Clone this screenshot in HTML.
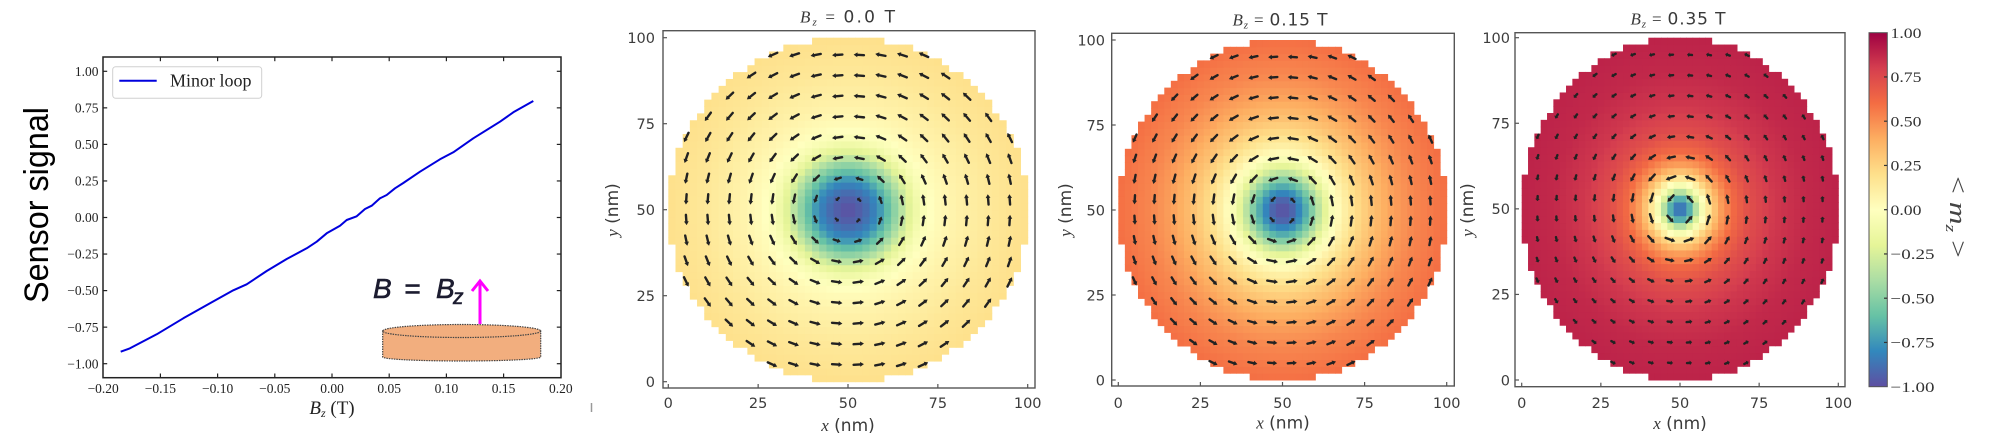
<!DOCTYPE html>
<html><head><meta charset="utf-8">
<style>
html,body{margin:0;padding:0;background:#fff;}
svg{display:block;}
</style></head><body>
<svg id="s" width="1993" height="439" viewBox="0 0 1993 439" xmlns="http://www.w3.org/2000/svg">
<defs>
<linearGradient id="cb" x1="0" y1="1" x2="0" y2="0">
<stop offset="0" stop-color="#5e4fa2"/><stop offset="0.1" stop-color="#3288bd"/><stop offset="0.2" stop-color="#66c2a5"/><stop offset="0.3" stop-color="#abdda4"/><stop offset="0.4" stop-color="#e6f598"/><stop offset="0.5" stop-color="#ffffbf"/><stop offset="0.6" stop-color="#fee08b"/><stop offset="0.7" stop-color="#fdae61"/><stop offset="0.8" stop-color="#f46d43"/><stop offset="0.9" stop-color="#d53e4f"/><stop offset="1" stop-color="#9e0142"/>
</linearGradient>
</defs>
<rect width="1993" height="439" fill="#fff"/>

<!-- Sensor signal label -->
<text transform="translate(48,205) rotate(-90)" text-anchor="middle" font-family="Liberation Sans, sans-serif" font-size="34" fill="#000" textLength="196" lengthAdjust="spacingAndGlyphs">Sensor signal</text>

<!-- Left plot -->
<g font-family="Liberation Serif, serif" fill="#222">
<rect x="103" y="57" width="458" height="320.7" fill="none" stroke="#222" stroke-width="1.5"/>
<g stroke="#222" stroke-width="1.2">
<line x1="160.4" y1="377.7" x2="160.4" y2="373.5"/><line x1="217.6" y1="377.7" x2="217.6" y2="373.5"/><line x1="274.8" y1="377.7" x2="274.8" y2="373.5"/><line x1="332" y1="377.7" x2="332" y2="373.5"/><line x1="389.2" y1="377.7" x2="389.2" y2="373.5"/><line x1="446.4" y1="377.7" x2="446.4" y2="373.5"/><line x1="503.6" y1="377.7" x2="503.6" y2="373.5"/>
<line x1="160.4" y1="57" x2="160.4" y2="61.2"/><line x1="217.6" y1="57" x2="217.6" y2="61.2"/><line x1="274.8" y1="57" x2="274.8" y2="61.2"/><line x1="332" y1="57" x2="332" y2="61.2"/><line x1="389.2" y1="57" x2="389.2" y2="61.2"/><line x1="446.4" y1="57" x2="446.4" y2="61.2"/><line x1="503.6" y1="57" x2="503.6" y2="61.2"/>
<line x1="103" y1="71.3" x2="107.2" y2="71.3"/><line x1="103" y1="107.85" x2="107.2" y2="107.85"/><line x1="103" y1="144.4" x2="107.2" y2="144.4"/><line x1="103" y1="180.95" x2="107.2" y2="180.95"/><line x1="103" y1="217.5" x2="107.2" y2="217.5"/><line x1="103" y1="254.05" x2="107.2" y2="254.05"/><line x1="103" y1="290.6" x2="107.2" y2="290.6"/><line x1="103" y1="327.15" x2="107.2" y2="327.15"/><line x1="103" y1="363.7" x2="107.2" y2="363.7"/>
<line x1="561" y1="71.3" x2="556.8" y2="71.3"/><line x1="561" y1="107.85" x2="556.8" y2="107.85"/><line x1="561" y1="144.4" x2="556.8" y2="144.4"/><line x1="561" y1="180.95" x2="556.8" y2="180.95"/><line x1="561" y1="217.5" x2="556.8" y2="217.5"/><line x1="561" y1="254.05" x2="556.8" y2="254.05"/><line x1="561" y1="290.6" x2="556.8" y2="290.6"/><line x1="561" y1="327.15" x2="556.8" y2="327.15"/><line x1="561" y1="363.7" x2="556.8" y2="363.7"/>
</g>
<g font-size="13.5" text-anchor="middle">
<text x="103.2" y="393">−0.20</text><text x="160.4" y="393">−0.15</text><text x="217.6" y="393">−0.10</text><text x="274.8" y="393">−0.05</text><text x="332" y="393">0.00</text><text x="389.2" y="393">0.05</text><text x="446.4" y="393">0.10</text><text x="503.6" y="393">0.15</text><text x="560.8" y="393">0.20</text>
</g>
<g font-size="13.5" text-anchor="end">
<text x="98.5" y="76">1.00</text><text x="98.5" y="112.5">0.75</text><text x="98.5" y="149">0.50</text><text x="98.5" y="185.6">0.25</text><text x="98.5" y="222.1">0.00</text><text x="98.5" y="258.7">−0.25</text><text x="98.5" y="295.2">−0.50</text><text x="98.5" y="331.8">−0.75</text><text x="98.5" y="368.3">−1.00</text>
</g>
<text x="332" y="414" text-anchor="middle" font-size="19"><tspan font-style="italic">B</tspan><tspan font-style="italic" font-size="12" dy="3">z</tspan><tspan dy="-3"> (T)</tspan></text>
<rect x="112.7" y="66.7" width="149" height="31.6" rx="3" fill="#fff" stroke="#d0d0d0" stroke-width="1"/>
<line x1="119.3" y1="80.7" x2="156.7" y2="80.7" stroke="#0000dd" stroke-width="2"/>
<text x="170" y="86.5" font-size="18">Minor loop</text>
</g>
<polyline fill="none" stroke="#0000dd" stroke-width="2" stroke-linejoin="round" points="120.7,351.7 130,348.3 156.7,334.3 183.3,318.3 210,303.3 233.3,290.3 246.7,284.3 266.7,271 286.7,259 306.7,248.3 316.7,241.7 326.7,233.3 340,225.7 346.7,220 356.7,216.3 365,209 371.7,205.7 380,198.3 386.7,195 395,188.3 403.3,183 420,171.7 440,159.3 453.3,152.3 473.3,138.3 500,121.7 513.3,112.3 533.3,101"/>

<!-- inset -->
<g font-family="Liberation Sans, sans-serif" font-style="italic" fill="#1c1c30" stroke="#1c1c30" stroke-width="0.6">
<text x="373" y="298" font-size="28">B</text>
<text x="404" y="298" font-size="28">=</text>
<text x="436" y="298" font-size="28">B</text>
<text x="453" y="304" font-size="21">z</text>
</g>
<line x1="480" y1="324" x2="480" y2="282" stroke="#ff00ff" stroke-width="3"/>
<polyline points="472,291 480,281 488,291" fill="none" stroke="#ff00ff" stroke-width="3"/>
<path d="M382.7,331 L382.7,357 A79,4 0 0 0 540.7,357 L540.7,331 Z" fill="#f2ae7e" stroke="#444" stroke-width="1.2" stroke-dasharray="1.5,1"/>
<ellipse cx="461.7" cy="331" rx="79" ry="6.5" fill="#f2ae7e" stroke="#444" stroke-width="1.2" stroke-dasharray="1.5,1"/>

<!-- small artifact -->
<line x1="591.5" y1="403" x2="591.5" y2="412" stroke="#999" stroke-width="1.5"/>

<g id="dyn"></g>

<!-- colorbar -->
<rect x="1869" y="32.7" width="18.3" height="354" fill="url(#cb)" stroke="#555" stroke-width="1"/>
<g stroke="#333" stroke-width="1.2">
<line x1="1887.3" y1="76.95" x2="1884" y2="76.95"/><line x1="1887.3" y1="121.2" x2="1884" y2="121.2"/><line x1="1887.3" y1="165.45" x2="1884" y2="165.45"/><line x1="1887.3" y1="209.7" x2="1884" y2="209.7"/><line x1="1887.3" y1="253.95" x2="1884" y2="253.95"/><line x1="1887.3" y1="298.2" x2="1884" y2="298.2"/><line x1="1887.3" y1="342.45" x2="1884" y2="342.45"/>
</g>
<g font-family="Liberation Serif, serif" font-size="15" fill="#333">
<text x="1890.5" y="38" textLength="31" lengthAdjust="spacingAndGlyphs">1.00</text>
<text x="1890.5" y="82" textLength="31" lengthAdjust="spacingAndGlyphs">0.75</text>
<text x="1890.5" y="126.3" textLength="31" lengthAdjust="spacingAndGlyphs">0.50</text>
<text x="1890.5" y="170.5" textLength="31" lengthAdjust="spacingAndGlyphs">0.25</text>
<text x="1890.5" y="214.8" textLength="31" lengthAdjust="spacingAndGlyphs">0.00</text>
<text x="1890.5" y="259" textLength="44" lengthAdjust="spacingAndGlyphs">−0.25</text>
<text x="1890.5" y="303.3" textLength="44" lengthAdjust="spacingAndGlyphs">−0.50</text>
<text x="1890.5" y="347.5" textLength="44" lengthAdjust="spacingAndGlyphs">−0.75</text>
<text x="1890.5" y="391.8" textLength="44" lengthAdjust="spacingAndGlyphs">−1.00</text>
</g>
<text transform="translate(1950,217) rotate(90)" text-anchor="middle" font-family="Liberation Serif, serif" font-size="24" fill="#444" textLength="82" lengthAdjust="spacingAndGlyphs">&lt; <tspan font-style="italic">m</tspan><tspan font-style="italic" font-size="15" dy="4">z</tspan><tspan dy="-4"> &gt;</tspan></text>
</svg>
<script>
(function(){
var SPEC=[[158,1,66],[213,62,79],[244,109,67],[253,174,97],[254,224,139],[255,255,191],[230,245,152],[171,221,164],[102,194,165],[50,136,189],[94,79,162]];
function cmap(mz){
  var t=1-(mz+1)/2; t=Math.max(0,Math.min(1,t))*10;
  var i=Math.min(9,Math.floor(t)), f=t-i, a=SPEC[i], b=SPEC[i+1];
  return 'rgb('+Math.round(a[0]+(b[0]-a[0])*f)+','+Math.round(a[1]+(b[1]-a[1])*f)+','+Math.round(a[2]+(b[2]-a[2])*f)+')';
}
function prof(p,r){
  if(r<=p[0][0]) return p[0][1];
  for(var k=1;k<p.length;k++){ if(r<=p[k][0]){var f=(r-p[k-1][0])/(p[k][0]-p[k-1][0]); return p[k-1][1]+(p[k][1]-p[k-1][1])*f;} }
  return p[p.length-1][1];
}
var P=[
 {x0:668.3,sx:3.594,y0:381.7,sy:3.44,box:[663,30.7,1035,388],title:'0.0',tcx:847.5,tby:22.5,ylx:618,xlb:431,ytr:655,xcx:848,Ls:10.5,
  p:[[0,-1],[4,-0.93],[8,-0.8],[11,-0.62],[14,-0.42],[17,-0.22],[20,-0.07],[24,0.02],[30,0.08],[40,0.15],[51,0.2]]},
 {x0:1118.3,sx:3.284,y0:380,sy:3.40,box:[1111.7,33.3,1454.3,386],title:'0.15',tcx:1280,tby:25.5,ylx:1071,xlb:428.5,ytr:1105,xcx:1283,Ls:11,
  p:[[0,-1],[3,-0.93],[6,-0.76],[9,-0.52],[12,-0.27],[15,-0.06],[18,0.07],[22,0.2],[27,0.32],[33,0.43],[40,0.52],[51,0.6]]},
 {x0:1521.7,sx:3.166,y0:380,sy:3.423,box:[1515,32.7,1845,386.7],title:'0.35',tcx:1678,tby:24.5,ylx:1473,xlb:429,ytr:1510,xcx:1680,Ls:10.5,
  p:[[0,-0.9],[2,-0.82],[4,-0.55],[6,-0.2],[8,0.05],[10,0.25],[13,0.45],[17,0.62],[22,0.73],[30,0.82],[40,0.87],[51,0.89]]}
];
var s='';
P.forEach(function(q){
  for(var i=0;i<50;i++){for(var j=0;j<50;j++){
    var cx=2*i+1, cy=2*j+1, dx=cx-50, dy=cy-50;
    if(dx*dx+dy*dy<=2500){
      var r=Math.sqrt(dx*dx+dy*dy), mz=prof(q.p,r);
      var x=q.x0+2*i*q.sx, y=q.y0-(2*j+2)*q.sy;
      s+='<rect x="'+x.toFixed(2)+'" y="'+y.toFixed(2)+'" width="'+(2*q.sx+0.5).toFixed(2)+'" height="'+(2*q.sy+0.5).toFixed(2)+'" fill="'+cmap(mz)+'"/>';
    }
  }}
  for(var a=0;a<16;a++){for(var b=0;b<16;b++){
    var gx=5+6*a, gy=5+6*b, ddx=gx-50, ddy=gy-50, rr=Math.sqrt(ddx*ddx+ddy*ddy);
    if(rr>50.5||rr<0.1) continue;
    var mz2=prof(q.p,rr), ip=Math.sqrt(Math.max(0,1-mz2*mz2));
    var ux=-ddy/rr*q.sx, uy=-(ddx/rr)*q.sy, n=Math.sqrt(ux*ux+uy*uy); ux/=n; uy/=n;
    var len=q.Ls*ip, px=q.x0+gx*q.sx, py=q.y0-gy*q.sy;
    if(len<3){ s+='<circle cx="'+px.toFixed(2)+'" cy="'+py.toFixed(2)+'" r="1.5" fill="#222"/>'; continue; }
    var tx=px-ux*len/2, ty=py-uy*len/2, hx=px+ux*len/2, hy=py+uy*len/2;
    var hl=Math.min(3.8,len*0.45), hw=2.4, bx=hx-ux*hl, by=hy-uy*hl, nx=-uy, ny=ux;
    s+='<line x1="'+tx.toFixed(2)+'" y1="'+ty.toFixed(2)+'" x2="'+bx.toFixed(2)+'" y2="'+by.toFixed(2)+'" stroke="#222" stroke-width="2.4" stroke-linecap="round"/>';
    s+='<polygon points="'+hx.toFixed(2)+','+hy.toFixed(2)+' '+(bx+nx*hw).toFixed(2)+','+(by+ny*hw).toFixed(2)+' '+(bx-nx*hw).toFixed(2)+','+(by-ny*hw).toFixed(2)+'" fill="#222"/>';
  }}
  var B=q.box;
  s+='<rect x="'+B[0]+'" y="'+B[1]+'" width="'+(B[2]-B[0])+'" height="'+(B[3]-B[1])+'" fill="none" stroke="#555" stroke-width="1.4"/>';
  [0,25,50,75,100].forEach(function(v){
    var xp=q.x0+v*q.sx, yp=q.y0-v*q.sy;
    s+='<line x1="'+xp.toFixed(2)+'" y1="'+B[3]+'" x2="'+xp.toFixed(2)+'" y2="'+(B[3]-4)+'" stroke="#555" stroke-width="1.2"/>';
    s+='<line x1="'+B[0]+'" y1="'+yp.toFixed(2)+'" x2="'+(B[0]+4)+'" y2="'+yp.toFixed(2)+'" stroke="#555" stroke-width="1.2"/>';
    s+='<text x="'+xp.toFixed(2)+'" y="408" text-anchor="middle" font-family="DejaVu Sans, sans-serif" font-size="14.5" fill="#3c3c3c">'+v+'</text>';
    s+='<text x="'+q.ytr+'" y="'+(yp+5.3).toFixed(2)+'" text-anchor="end" font-family="DejaVu Sans, sans-serif" font-size="14.5" fill="#3c3c3c">'+v+'</text>';
  });
  s+='<text x="'+q.tcx+'" y="'+q.tby+'" text-anchor="middle" font-size="17" fill="#3a3a3a" textLength="95" lengthAdjust="spacing"><tspan font-family="Liberation Serif, serif" font-style="italic">B</tspan><tspan font-family="Liberation Serif, serif" font-style="italic" font-size="11" dy="3">z</tspan><tspan dy="-3" font-family="Liberation Serif, serif"> = </tspan><tspan font-family="DejaVu Sans, sans-serif">'+q.title+' T</tspan></text>';
  s+='<text x="'+q.xcx+'" y="'+q.xlb+'" text-anchor="middle" font-size="17" fill="#3a3a3a"><tspan font-family="Liberation Serif, serif" font-style="italic">x</tspan><tspan font-family="DejaVu Sans, sans-serif"> (nm)</tspan></text>';
  s+='<text transform="translate('+q.ylx+',210) rotate(-90)" text-anchor="middle" font-size="17" fill="#3a3a3a"><tspan font-family="Liberation Serif, serif" font-style="italic">y</tspan><tspan font-family="DejaVu Sans, sans-serif"> (nm)</tspan></text>';
});
document.getElementById('dyn').innerHTML=s;
})();
</script>
</body></html>
